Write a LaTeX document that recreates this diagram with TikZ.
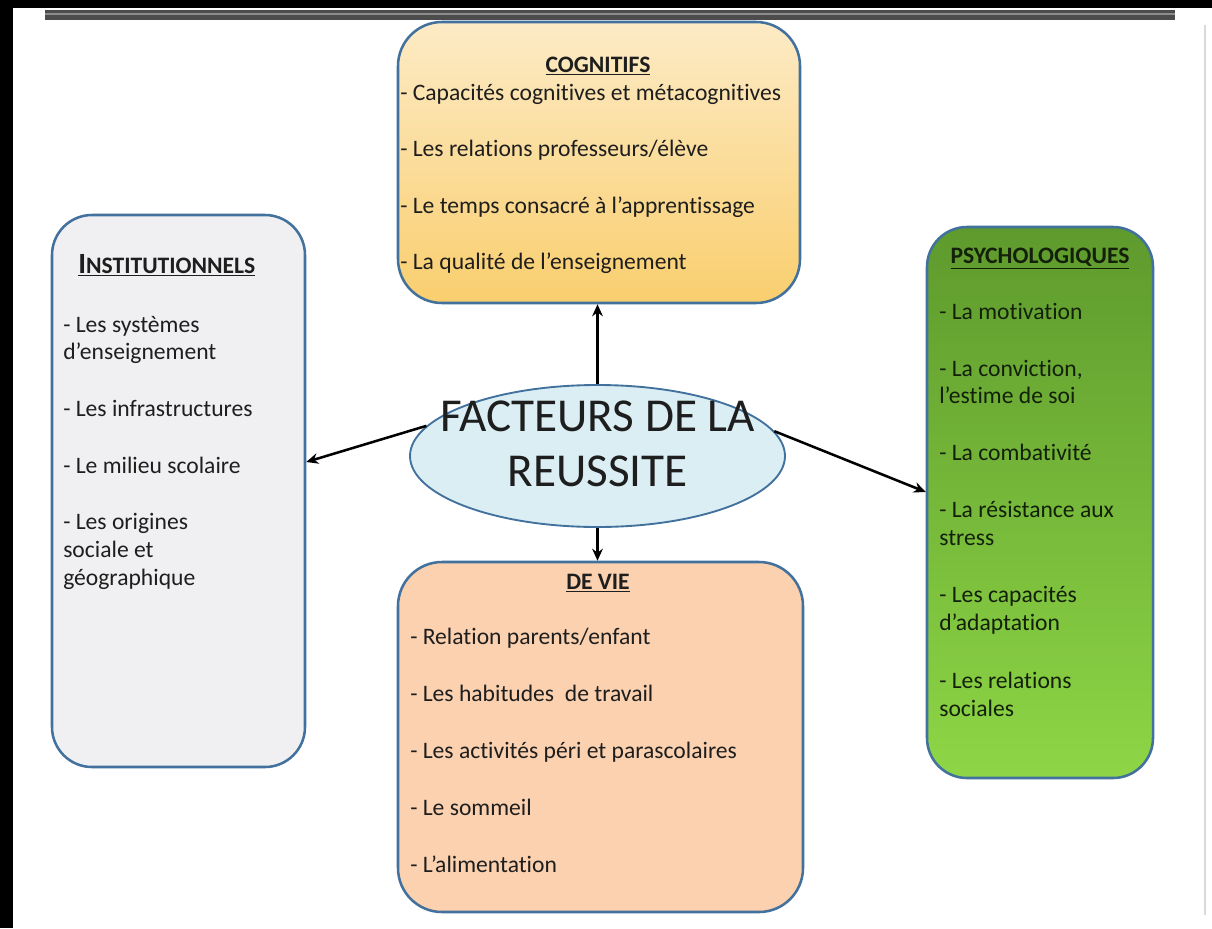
\documentclass[tikz,border=0pt]{standalone}
\usepackage{fontspec}
\setmainfont{Carlito}[Ligatures={NoCommon}]
\usetikzlibrary{shapes.geometric,arrows.meta}
\definecolor{bord}{HTML}{41719C}
\definecolor{txt}{HTML}{1E1E1E}
\definecolor{psytxt}{HTML}{13200A}
\definecolor{cogtop}{HTML}{FDEBC6}
\definecolor{cogbot}{HTML}{F9CE6E}
\definecolor{instfill}{HTML}{F0F0F2}
\definecolor{psytop}{HTML}{5E9A2D}
\definecolor{psybot}{HTML}{8ED646}
\definecolor{viefill}{HTML}{FBD1AF}
\definecolor{ellfill}{HTML}{DBEEF4}
\tikzset{
  box/.style={draw=bord, line width=1.9pt, rounded corners=33pt},
  item/.style={anchor=base west, inner sep=0pt, text=txt, font=\fontsize{17.7}{21}\selectfont},
  ttl/.style={anchor=base, inner sep=0pt, text=txt, font=\fontsize{17.7}{21}\selectfont\bfseries},
  arr/.style={line width=1.9pt, -{Stealth[length=9pt,width=8pt]}}
}
\begin{document}
\begin{tikzpicture}[x=0.75pt,y=-0.75pt]
\useasboundingbox (0,0) rectangle (1212,928);
\fill[white] (0,0) rectangle (1212,928);
% frame
\fill[black] (0,0) rectangle (1212,8);
\fill[black] (0,0) rectangle (13,928);
\fill[black!70] (45,10) rectangle (1175,20);
\fill[black!45] (45,13) rectangle (1175,15);
\draw[black!15, line width=0.8pt] (1205,25) -- (1205,915);

% boxes
\node[box, top color=cogtop, bottom color=cogbot, minimum width=301.5pt, minimum height=210.75pt] (cog) at (599,162.5) {};
\node[box, fill=instfill, rounded corners=30pt, minimum width=189.75pt, minimum height=414pt] (inst) at (178.5,491) {};
\node[box, top color=psytop, bottom color=psybot, rounded corners=30pt, minimum width=169.5pt, minimum height=413.25pt] (psy) at (1040,502.5) {};
\node[box, fill=viefill, minimum width=303.75pt, minimum height=262.5pt] (vie) at (600.5,737) {};
\node[ellipse, draw=bord, line width=1.4pt, fill=ellfill, minimum width=281.25pt, minimum height=106.5pt, inner sep=0pt] (ell) at (597.5,456) {};

% centre text
\node[anchor=base, inner sep=0pt, text=txt, font=\fontsize{35.4}{40}\selectfont] (f1) at (597.5,431) {FACTEURS DE LA};
\node[anchor=base, inner sep=0pt, text=txt, font=\fontsize{35.4}{40}\selectfont] (f2) at (597.5,486) {REUSSITE};

% cognitifs
\node[ttl] (cogt) at (598,72) {\underline{COGNITIFS}};
\node[item] (c1) at (400,100) {- Capacités cognitives et métacognitives};
\node[item] (c2) at (400,156) {- Les relations professeurs/élève};
\node[item] (c3) at (400,213) {- Le temps consacré à l’apprentissage};
\node[item] (c4) at (400,269) {- La qualité de l’enseignement};

% institutionnels
\node[ttl, anchor=base west] (instt) at (78,273) {\underline{{\fontsize{22}{24}\selectfont I}NSTITUTIONNELS}};
\node[item] (i1) at (63,332) {- Les systèmes};
\node[item] (i2) at (63,359) {d’enseignement};
\node[item] (i3) at (63,416) {- Les infrastructures};
\node[item] (i4) at (63,473) {- Le milieu scolaire};
\node[item] (i5) at (63,529) {- Les origines};
\node[item] (i6) at (63,557) {sociale et};
\node[item] (i7) at (63,585) {géographique};

% psychologiques
\tikzset{pitem/.style={item, text=psytxt}}
\node[ttl, text=psytxt] (psyt) at (1040,263) {\underline{PSYCHOLOGIQUES}};
\node[pitem] (p1) at (939,319) {- La motivation};
\node[pitem] (p2) at (939,376) {- La conviction,};
\node[pitem] (p3) at (939,403) {l’estime de soi};
\node[pitem] (p4) at (939,460) {- La combativité};
\node[pitem] (p5) at (939,517) {- La résistance aux};
\node[pitem] (p6) at (939,545) {stress};
\node[pitem] (p7) at (939,602) {- Les capacités};
\node[pitem] (p8) at (939,630) {d’adaptation};
\node[pitem] (p9) at (939,688) {- Les relations};
\node[pitem] (p10) at (939,716) {sociales};

% de vie
\node[ttl] (viet) at (598,589) {\underline{DE VIE}};
\node[item] (v1) at (410,644) {- Relation parents/enfant};
\node[item] (v2) at (410,701) {- Les habitudes\ \ de travail};
\node[item] (v3) at (410,758) {- Les activités péri et parascolaires};
\node[item] (v4) at (410,815) {- Le sommeil};
\node[item] (v5) at (410,872) {- L’alimentation};

% arrows
\draw[arr] (ell.north) -- (ell.north |- cog.south);
\draw[arr] (ell.south) -- (ell.south |- vie.north);
\draw[arr] (ell.170.6) -- ([yshift=21.75pt]inst.east);
\draw[arr] (ell.8.5) -- ([yshift=7.9pt]psy.west);
\end{tikzpicture}
\end{document}
